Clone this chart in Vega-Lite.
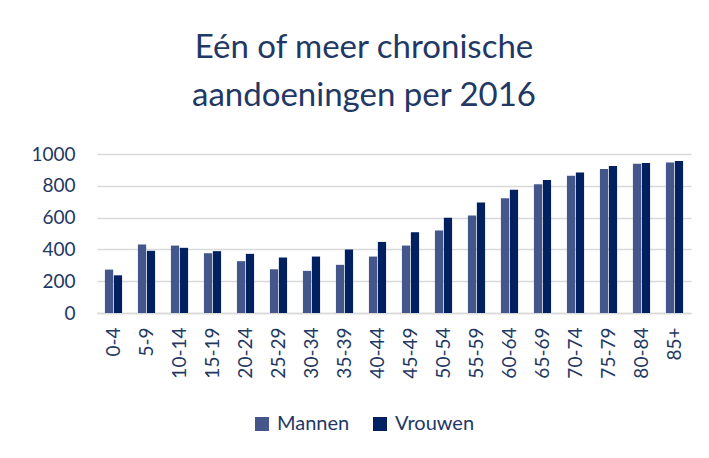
{
  "$schema": "https://vega.github.io/schema/vega-lite/v6.json",
  "width": 594,
  "height": 159,
  "autosize": {"type": "none"},
  "padding": {"left": 97, "top": 154, "right": 18, "bottom": 145},
  "background": "white",
  "title": {
    "text": ["Eén of meer chronische", "aandoeningen per 2016"],
    "anchor": "middle",
    "dx": -30,
    "offset": 32,
    "font": "Lato",
    "fontSize": 33,
    "fontWeight": "normal",
    "color": "#1F3864",
    "lineHeight": 48
  },
  "data": {
    "values": [
      {"age": "0-4", "sex": "Mannen", "value": 273}, {"age": "0-4", "sex": "Vrouwen", "value": 237},
      {"age": "5-9", "sex": "Mannen", "value": 431}, {"age": "5-9", "sex": "Vrouwen", "value": 391},
      {"age": "10-14", "sex": "Mannen", "value": 424}, {"age": "10-14", "sex": "Vrouwen", "value": 410},
      {"age": "15-19", "sex": "Mannen", "value": 376}, {"age": "15-19", "sex": "Vrouwen", "value": 389},
      {"age": "20-24", "sex": "Mannen", "value": 326}, {"age": "20-24", "sex": "Vrouwen", "value": 372},
      {"age": "25-29", "sex": "Mannen", "value": 275}, {"age": "25-29", "sex": "Vrouwen", "value": 349},
      {"age": "30-34", "sex": "Mannen", "value": 265}, {"age": "30-34", "sex": "Vrouwen", "value": 355},
      {"age": "35-39", "sex": "Mannen", "value": 303}, {"age": "35-39", "sex": "Vrouwen", "value": 399},
      {"age": "40-44", "sex": "Mannen", "value": 355}, {"age": "40-44", "sex": "Vrouwen", "value": 447},
      {"age": "45-49", "sex": "Mannen", "value": 424}, {"age": "45-49", "sex": "Vrouwen", "value": 508},
      {"age": "50-54", "sex": "Mannen", "value": 519}, {"age": "50-54", "sex": "Vrouwen", "value": 599},
      {"age": "55-59", "sex": "Mannen", "value": 613}, {"age": "55-59", "sex": "Vrouwen", "value": 695},
      {"age": "60-64", "sex": "Mannen", "value": 721}, {"age": "60-64", "sex": "Vrouwen", "value": 775},
      {"age": "65-69", "sex": "Mannen", "value": 809}, {"age": "65-69", "sex": "Vrouwen", "value": 836},
      {"age": "70-74", "sex": "Mannen", "value": 863}, {"age": "70-74", "sex": "Vrouwen", "value": 884},
      {"age": "75-79", "sex": "Mannen", "value": 905}, {"age": "75-79", "sex": "Vrouwen", "value": 924},
      {"age": "80-84", "sex": "Mannen", "value": 939}, {"age": "80-84", "sex": "Vrouwen", "value": 943},
      {"age": "85+", "sex": "Mannen", "value": 947}, {"age": "85+", "sex": "Vrouwen", "value": 956}
    ]
  },
  "mark": {"type": "bar"},
  "encoding": {
    "x": {
      "field": "age", "type": "nominal", "sort": null,
      "scale": {"paddingInner": 0.48, "paddingOuter": 0.24},
      "axis": {
        "title": null, "labelAngle": -90, "labelAlign": "right", "labelBaseline": "middle",
        "labelFont": "Lato", "labelFontSize": 19, "labelColor": "#1F3864",
        "labelPadding": 14, "ticks": false,
        "domain": true, "domainColor": "#D9D9D9", "domainWidth": 1.5, "grid": false
      }
    },
    "xOffset": {"field": "sex", "type": "nominal", "scale": {"paddingInner": 0.08}},
    "y": {
      "field": "value", "type": "quantitative",
      "scale": {"domain": [0, 1000]},
      "axis": {
        "title": null, "values": [0, 200, 400, 600, 800, 1000], "format": "d",
        "domain": false, "ticks": false,
        "labelFont": "Lato", "labelFontSize": 19, "labelColor": "#1F3864", "labelPadding": 22,
        "gridColor": "#D9D9D9", "gridWidth": 1.5
      }
    },
    "color": {
      "field": "sex", "type": "nominal",
      "scale": {"domain": ["Mannen", "Vrouwen"], "range": ["#44568A", "#002060"]},
      "legend": {
        "title": null, "orient": "none", "direction": "horizontal",
        "legendX": 155, "legendY": 260,
        "symbolType": "square", "symbolSize": 196, "symbolStrokeWidth": 0,
        "labelFont": "Lato", "labelFontSize": 20, "labelColor": "#1F3864",
        "labelOffset": 5, "columnPadding": 20
      }
    }
  },
  "config": {"view": {"stroke": null}}
}
